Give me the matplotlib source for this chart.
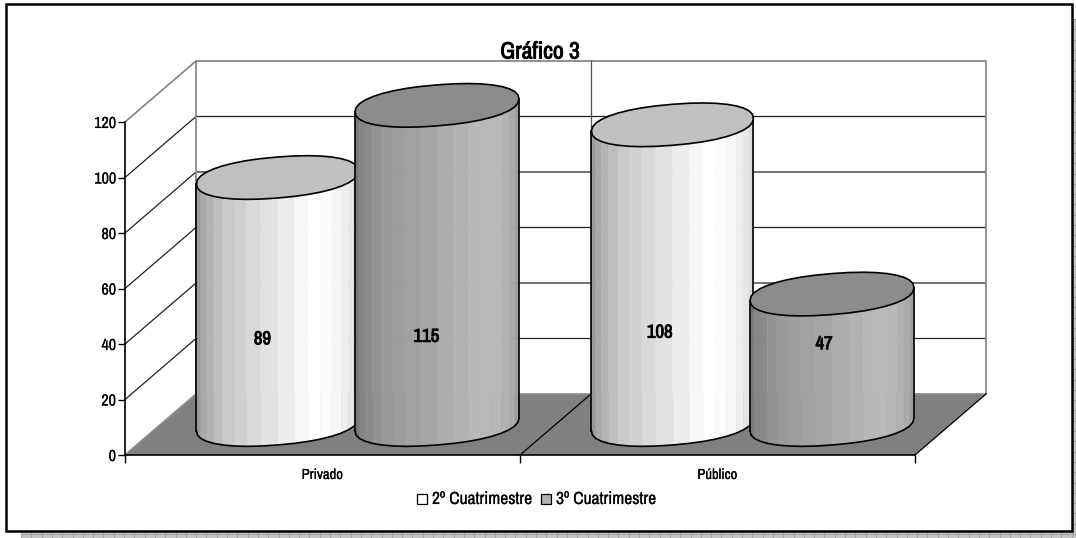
import numpy as np
import matplotlib
matplotlib.use("Agg")
from matplotlib import pyplot as plt
from matplotlib import patheffects as pe
from matplotlib.patches import Polygon, Rectangle

categories = ["Privado", "Público"]
series_names = ["2º Cuatrimestre", "3º Cuatrimestre"]
values_2 = [89, 108]
values_3 = [115, 47]
y_ticks = [0, 20, 40, 60, 80, 100, 120]

plt.rcParams['font.family'] = ['Archivo Narrow', 'PT Sans Narrow', 'Roboto Condensed', 'Liberation Sans']

W, H = 1076, 538
fig = plt.figure(figsize=(W / 100, H / 100), dpi=100, facecolor="white")

# the narrow font has no bold cut here, so thicken the strokes
heavy = [pe.withStroke(linewidth=0.65, foreground="black")]
semi = [pe.withStroke(linewidth=0.1, foreground="black")]


def fig_box(x0, y0, x1, y1):
    # pixel box, y counted from the top, to figure fractions
    return [x0 / W, 1 - y1 / H, (x1 - x0) / W, (y1 - y0) / H]


# page frame and its shadow
bg = fig.add_axes([0, 0, 1, 1], zorder=0)
bg.set_xlim(0, W)
bg.set_ylim(H, 0)
bg.axis("off")
bg.add_patch(Rectangle((21, 19), W, H, fc="#c4c4c4", ec="none"))
bg.vlines(np.arange(21, W, 10.3), 19, H, color="#a6a6a6", lw=0.8)
bg.hlines(np.arange(19, H, 10.3), 21, W, color="#a6a6a6", lw=0.8)
bg.add_patch(Rectangle((6, 4), 1066, 526.5, fc="white", ec="black", lw=1.8, zorder=3))

ax = fig.add_axes(fig_box(125, 122, 915, 455), zorder=1)
ax.patch.set_alpha(0)
ax.set_xlim(0, len(categories))
ax.set_ylim(0, y_ticks[-1])

# depth of the 3d box, in data units
px_x = len(categories) / 790
px_y = y_ticks[-1] / 333
dx = 71 * px_x
dy = 61 * px_y
x_end = len(categories)
y_top = y_ticks[-1]

# floor
ax.add_patch(Polygon([(0, 0), (x_end, 0), (x_end + dx, dy), (dx, dy)], fc="#808080", ec="none",
                     clip_on=False, zorder=1))
# walls
for t in y_ticks[1:-1]:
    ax.plot([0, dx, x_end + dx], [t, t + dy, t + dy], color="#222222", lw=0.9, clip_on=False, zorder=2)
gray = "#8a8a8a"
ax.plot([0, dx, x_end + dx, x_end + dx], [y_top, y_top + dy, y_top + dy, dy], color=gray, lw=1.3, clip_on=False, zorder=2)
ax.plot([dx, dx], [dy, y_top + dy], color=gray, lw=1.3, clip_on=False, zorder=2)
ax.plot([1 + dx, 1 + dx], [dy, y_top + dy], color="#555555", lw=0.9, clip_on=False, zorder=2)
ax.plot([0, dx, x_end + dx], [0, dy, dy], color=gray, lw=1.2, clip_on=False, zorder=2)
ax.plot([1, 1 + dx], [0, dy], color="black", lw=0.9, clip_on=False, zorder=2)
ax.plot([x_end, x_end + dx], [0, dy], color="black", lw=0.9, clip_on=False, zorder=2)

# shading across a cylinder, left to right, at a few stops
shade_pos = [0, 0.04, 0.18, 0.45, 0.72, 0.85, 0.95, 1]
shade_2 = [0x90, 0xa8, 0xc8, 0xe2, 0xff, 0xfa, 0xe8, 0xd4]
shade_3 = [0x70, 0x84, 0x98, 0xa6, 0xb8, 0xba, 0xae, 0x98]
top_2 = "#c0c0c0"
top_3 = "#8c8c8c"


def cylinder(x, v, shade, top, half_w):
    n = 36
    t = np.linspace(0, 2 * np.pi, n + 1)
    a = half_w * px_x
    b = 20.5 * px_y
    s = 6.5 * px_y
    cx = x + dx / 2
    cy = dy / 2
    # slightly squared ellipse, the original outline is fuller than a true one
    c = np.sign(np.cos(t)) * np.abs(np.cos(t)) ** 0.9
    d = np.sign(np.sin(t)) * np.abs(np.sin(t)) ** 0.9
    ex = a * c
    ey = b * d + s * c
    z = 4 + x
    # front half of the ellipse runs from left tip to right tip
    front = np.arange(n // 2, n + 1)
    for i, j in zip(front[:-1], front[1:]):
        m = (ex[i] + ex[j]) / (2 * a) / 2 + 0.5
        g = np.interp(m, shade_pos, shade) / 255
        pts = [(cx + ex[i], cy + ey[i]), (cx + ex[j], cy + ey[j]),
               (cx + ex[j], cy + v + ey[j]), (cx + ex[i], cy + v + ey[i])]
        ax.add_patch(Polygon(pts, fc=(g, g, g), ec=(g, g, g), lw=0.3, clip_on=False, zorder=z))
    ax.plot(cx + ex[front], cy + ey[front], color="black", lw=1.2, clip_on=False, zorder=z)
    ax.plot([cx - a, cx - a], [cy + ey[n // 2], cy + v + ey[n // 2]], color="black", lw=1.2, clip_on=False, zorder=z)
    ax.plot([cx + a, cx + a], [cy + ey[0], cy + v + ey[0]], color="black", lw=1.2, clip_on=False, zorder=z)
    ax.add_patch(Polygon(np.column_stack([cx + ex, cy + v + ey]), fc=top, ec="black", lw=1.2, clip_on=False, zorder=z))


for i in range(len(categories)):
    cylinder(i + 0.5 - 0.204, values_2[i], shade_2, top_2, 81)
    cylinder(i + 0.5 + 0.2, values_3[i], shade_3, top_3, 82)

# data labels, placed where the original has them
label_x = [0.348, 0.763, 1.354, 1.77]
label_y = [41.7, 42.6, 44.1, 39.9]
label_vals = [values_2[0], values_3[0], values_2[1], values_3[1]]
for lx, ly, v in zip(label_x, label_y, label_vals):
    ax.text(lx, ly, str(v), ha="center", va="center", fontsize=13.5, zorder=20, path_effects=heavy)

for name in ["top", "right"]:
    ax.spines[name].set_visible(False)
for name in ["left", "bottom"]:
    ax.spines[name].set_linewidth(1.2)
    ax.spines[name].set_zorder(3)
ax.set_yticks(y_ticks)
ax.tick_params(axis="y", length=5, width=1, pad=1.5, labelsize=11.5)
for lab in ax.get_yticklabels():
    lab.set_path_effects(semi)
ax.set_xticks(range(len(categories) + 1))
ax.set_xticklabels([])
ax.tick_params(axis="x", length=6, width=1)
for i, c in enumerate(categories):
    ax.text(i + 0.5, -7.2, c, ha="center", va="center", fontsize=10.5, path_effects=semi)

bg.text(540, 52, "Gráfico 3", ha="center", va="center", fontsize=17, zorder=5, path_effects=heavy)

# legend
bg.add_patch(Rectangle((417, 494), 10, 10, fc="white", ec="black", lw=0.9, zorder=5))
bg.text(432, 499, series_names[0], ha="left", va="center", fontsize=12.6, zorder=5, path_effects=semi)
bg.add_patch(Rectangle((541, 494), 10, 10, fc="#b4b4b4", ec="black", lw=0.9, zorder=5))
bg.text(556, 499, series_names[1], ha="left", va="center", fontsize=12.6, zorder=5, path_effects=semi)

fig.savefig("out.png", dpi=100)
